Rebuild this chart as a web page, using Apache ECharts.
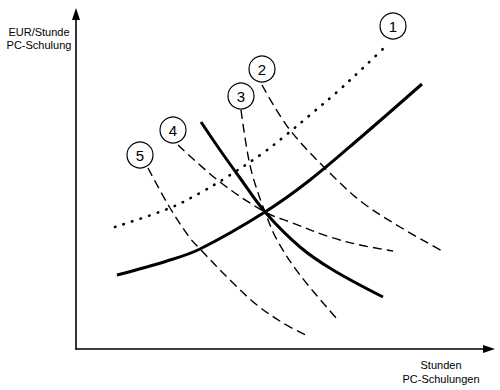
<!DOCTYPE html>
<html><head><meta charset="utf-8">
<script src="https://cdn.jsdelivr.net/npm/echarts@6/dist/echarts.min.js"></script>
<style>html,body{margin:0;padding:0;background:#fff}#c{width:500px;height:390px}</style>
</head><body><div id="c"></div>
<script>
// Values (arbitrary units: hours, EUR/hour)
var supply = [[41,74],[91,88],[124,100],[189,137],[234,169],[284,211],[346,265]];
var demand = [[125,227],[144,199],[164,171],[189,137],[224,102],[257,79],[307,52]];
var curve1 = [[39,122],[94,141],[124,156],[151,172],[187,196],[210,214],[234,234],[261,257],[287,281],[311,304]];
var curve2 = [[186,264],[214,219],[261,169],[287,146],[324,122],[368,97]];
var curve3 = [[165,239],[171,199],[177,172],[189,137],[201,109],[224,74],[262,29]];
var curve4 = [[102,204],[144,167],[189,137],[214,127],[254,112],[284,104],[317,98]];
var curve5 = [[72,181],[94,141],[114,111],[124,100],[157,66],[181,44],[207,26],[232,13]];
var markers = [[317,323,'1'],[186,280,'2'],[165,253,'3'],[97,219,'4'],[64,194,'5']];
var yName = 'EUR/Stunde\nPC-Schulung';
var xName = 'Stunden\nPC-Schulungen';

var chart = echarts.init(document.getElementById('c'), null, {renderer:'svg'});
function line(data, width, dash, cap) {
  return {type:'line', data:data, smooth:0.35, symbol:'none', silent:true,
    lineStyle:{color:'#000', width:width, type:dash, cap:cap||'butt'}, z:2};
}
var font = '11px "Liberation Sans", Arial, sans-serif';
chart.setOption({
  animation:false,
  backgroundColor:'#fff',
  grid:{left:76, right:11, top:14, bottom:41},
  xAxis:{type:'value', min:0, max:413, axisLabel:{show:false}, axisTick:{show:false}, splitLine:{show:false},
    axisLine:{onZero:false, lineStyle:{color:'#000', width:1.6}, symbol:['none','triangle'], symbolSize:[8,12]}},
  yAxis:{type:'value', min:0, max:335, axisLabel:{show:false}, axisTick:{show:false}, splitLine:{show:false},
    axisLine:{show:true, onZero:false, lineStyle:{color:'#000', width:1.6}, symbol:['none','triangle'], symbolSize:[8,12]}},
  graphic:[
    {type:'text', x:39, y:25, style:{text:yName, font:font, fill:'#000', align:'center', verticalAlign:'top', lineHeight:13}},
    {type:'text', x:441, y:358, style:{text:xName, font:font, fill:'#000', align:'center', verticalAlign:'top', lineHeight:14}}
  ],
  series:[
    line(supply,3,'solid'),
    line(demand,3,'solid'),
    line(curve1,2.6,[0.5,8.5],'round'),
    line(curve2,1.4,[9,5]),
    line(curve3,1.4,[9,5]),
    line(curve4,1.4,[9,5]),
    line(curve5,1.4,[9,5]),
    {type:'scatter', data:markers, symbol:'circle', symbolSize:26, silent:true, z:5,
      itemStyle:{color:'#fff', borderColor:'#000', borderWidth:1.2, opacity:1},
      label:{show:true, position:'inside', formatter:function(p){return p.data[2];}, color:'#000',
        fontSize:15, fontFamily:'"Liberation Sans", Arial, sans-serif'}}
  ]
});
</script></body></html>
